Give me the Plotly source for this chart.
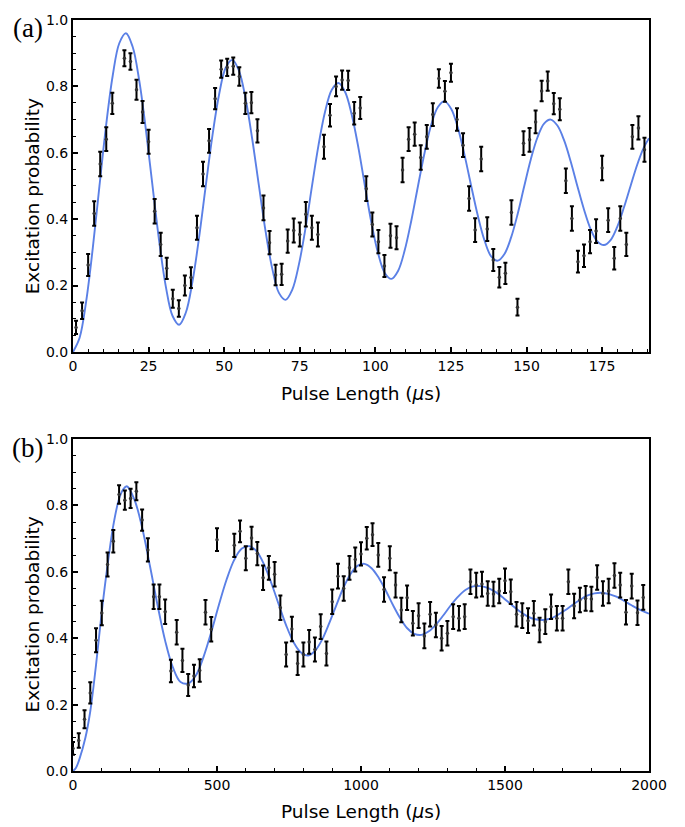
import plotly.graph_objects as go

# ---------------- Panel (a) data ----------------
a_x = [1, 3, 5, 7, 9, 11, 13, 17, 19, 21, 23, 25, 27, 29, 31, 33, 35, 37, 39, 41,
       43, 45, 47, 49, 51, 53, 55, 57, 59, 61, 63, 65, 67, 69, 71, 73, 75, 77, 79, 81,
       83, 85, 87, 89, 91, 93, 95, 97, 99, 101, 103, 105, 107, 109, 111, 113, 115, 117, 119, 121,
       123, 125, 127, 129, 131, 133, 135, 137, 139, 141, 143, 145, 147, 149, 151, 153, 155, 157, 159, 161,
       163, 165, 167, 169, 171, 173, 175, 177, 179, 181, 183, 185, 187, 189]
a_y = [0.074, 0.124, 0.262, 0.417, 0.566, 0.641, 0.749, 0.885, 0.875, 0.790, 0.723, 0.633, 0.424, 0.324, 0.252, 0.160, 0.131, 0.200, 0.224, 0.374,
       0.536, 0.636, 0.763, 0.852, 0.857, 0.861, 0.830, 0.749, 0.751, 0.666, 0.434, 0.329, 0.232, 0.234, 0.334, 0.366, 0.354, 0.415, 0.374, 0.354,
       0.618, 0.713, 0.800, 0.819, 0.818, 0.719, 0.735, 0.492, 0.384, 0.332, 0.259, 0.350, 0.344, 0.548, 0.641, 0.656, 0.586, 0.648, 0.715, 0.824,
       0.785, 0.841, 0.700, 0.623, 0.462, 0.367, 0.581, 0.370, 0.277, 0.225, 0.237, 0.420, 0.135, 0.629, 0.639, 0.693, 0.786, 0.816, 0.748, 0.731,
       0.516, 0.402, 0.272, 0.290, 0.332, 0.364, 0.554, 0.397, 0.282, 0.402, 0.324, 0.648, 0.675, 0.609]
a_err = [0.020, 0.025, 0.033, 0.037, 0.037, 0.036, 0.032, 0.024, 0.025, 0.030, 0.033, 0.036, 0.037, 0.035, 0.032, 0.027, 0.025, 0.030, 0.031, 0.036,
         0.037, 0.036, 0.032, 0.026, 0.026, 0.026, 0.028, 0.032, 0.032, 0.035, 0.037, 0.035, 0.031, 0.032, 0.035, 0.036, 0.036, 0.037, 0.036, 0.036,
         0.036, 0.034, 0.030, 0.029, 0.029, 0.034, 0.033, 0.037, 0.036, 0.035, 0.033, 0.036, 0.035, 0.037, 0.036, 0.035, 0.037, 0.036, 0.034, 0.028,
         0.031, 0.027, 0.034, 0.036, 0.037, 0.036, 0.037, 0.036, 0.033, 0.031, 0.032, 0.037, 0.025, 0.036, 0.036, 0.034, 0.031, 0.029, 0.032, 0.033,
         0.037, 0.037, 0.033, 0.034, 0.035, 0.036, 0.037, 0.036, 0.034, 0.037, 0.035, 0.036, 0.035, 0.036]

# fit curve of panel (a)
fit_a_x = [0, 2.19, 4.38, 6.56, 8.75, 10.94, 13.13, 15.31,
           17.5, 19.7, 21.9, 24.1, 26.3, 28.5, 30.7, 32.9,
           35.1, 37.3, 39.5, 41.7, 43.9, 46.1, 48.3, 50.5,
           52.7, 54.9, 57.1, 59.3, 61.5, 63.7, 65.9, 68.1,
           70.3, 72.5, 74.7, 76.9, 79.05, 81.2, 83.4, 85.6,
           87.8, 90.0, 92.2, 94.4, 96.55, 98.7, 100.9, 103.1,
           105.3, 107.5, 109.7, 111.9, 114.1, 116.3, 118.5, 120.7,
           122.9, 125.1, 127.3, 129.5, 131.7, 133.9, 136.1, 138.3,
           140.5, 142.7, 144.9, 147.1, 149.25, 151.4, 153.6, 155.8,
           158.0, 160.2, 162.4, 164.6, 166.8, 169.0, 171.2, 173.4,
           175.6, 177.8, 180.0, 182.2, 184.4, 186.6, 188.8, 190.5]
fit_a_y = [0.0, 0.043, 0.154, 0.314, 0.50, 0.682, 0.832, 0.930,
           0.960, 0.920, 0.818, 0.670, 0.50, 0.334, 0.197, 0.109,
           0.082, 0.118, 0.211, 0.345, 0.50, 0.651, 0.775, 0.856,
           0.880, 0.847, 0.762, 0.640, 0.50, 0.363, 0.251, 0.178,
           0.157, 0.187, 0.263, 0.373, 0.50, 0.623, 0.725, 0.790,
           0.810, 0.783, 0.714, 0.615, 0.50, 0.389, 0.297, 0.238,
           0.220, 0.244, 0.306, 0.396, 0.50, 0.601, 0.685, 0.738,
           0.755, 0.732, 0.675, 0.593, 0.50, 0.410, 0.336, 0.288,
           0.275, 0.295, 0.345, 0.417, 0.50, 0.580, 0.646, 0.688,
           0.700, 0.682, 0.638, 0.574, 0.50, 0.429, 0.370, 0.333,
           0.322, 0.337, 0.377, 0.435, 0.50, 0.564, 0.616, 0.644]

# ---------------- Panel (b) data ----------------
b_x = [0, 20, 40, 60, 80, 100, 120, 140, 160, 180, 200, 220, 240, 260, 280, 300, 320, 340, 360, 380,
       400, 420, 440, 460, 480, 500, 560, 580, 600, 620, 640, 660, 680, 700, 720, 740, 760, 780, 800, 820,
       840, 860, 880, 900, 920, 940, 960, 980, 1000, 1020, 1040, 1060, 1080, 1100, 1120, 1140, 1160, 1180, 1200, 1220,
       1240, 1260, 1280, 1300, 1320, 1340, 1360, 1380, 1400, 1420, 1440, 1460, 1480, 1500, 1520, 1540, 1560, 1580, 1600, 1620,
       1640, 1660, 1680, 1700, 1720, 1740, 1760, 1780, 1800, 1820, 1840, 1860, 1880, 1900, 1920, 1940, 1960, 1980]
b_y = [0.068, 0.092, 0.156, 0.235, 0.394, 0.476, 0.622, 0.692, 0.833, 0.816, 0.821, 0.843, 0.756, 0.666, 0.525, 0.525, 0.480, 0.301, 0.418, 0.333,
       0.259, 0.286, 0.303, 0.478, 0.427, 0.697, 0.680, 0.722, 0.641, 0.702, 0.655, 0.582, 0.612, 0.593, 0.492, 0.351, 0.428, 0.324, 0.351, 0.389,
       0.366, 0.435, 0.354, 0.510, 0.587, 0.550, 0.612, 0.637, 0.654, 0.701, 0.712, 0.651, 0.547, 0.641, 0.560, 0.485, 0.522, 0.445, 0.468, 0.407,
       0.472, 0.440, 0.400, 0.415, 0.465, 0.460, 0.465, 0.570, 0.560, 0.563, 0.535, 0.533, 0.542, 0.573, 0.540, 0.472, 0.468, 0.453, 0.475, 0.425,
       0.450, 0.495, 0.460, 0.460, 0.570, 0.497, 0.515, 0.520, 0.518, 0.583, 0.535, 0.542, 0.589, 0.560, 0.478, 0.557, 0.477, 0.523]
b_err = [0.019, 0.022, 0.027, 0.032, 0.036, 0.037, 0.036, 0.034, 0.028, 0.029, 0.029, 0.027, 0.032, 0.035, 0.037, 0.037, 0.037, 0.034, 0.037, 0.035,
         0.033, 0.034, 0.034, 0.037, 0.037, 0.034, 0.035, 0.033, 0.036, 0.034, 0.035, 0.037, 0.036, 0.037, 0.037, 0.036, 0.037, 0.035, 0.036, 0.036,
         0.036, 0.037, 0.036, 0.037, 0.037, 0.037, 0.036, 0.036, 0.035, 0.034, 0.034, 0.036, 0.037, 0.036, 0.037, 0.037, 0.037, 0.037, 0.037, 0.037,
         0.037, 0.037, 0.037, 0.037, 0.037, 0.037, 0.037, 0.037, 0.037, 0.037, 0.037, 0.037, 0.037, 0.037, 0.037, 0.037, 0.037, 0.037, 0.037, 0.037,
         0.037, 0.037, 0.037, 0.037, 0.037, 0.037, 0.037, 0.037, 0.037, 0.037, 0.037, 0.037, 0.037, 0.037, 0.037, 0.037, 0.037, 0.037]

# fit curve of panel (b)
fit_b_x = [0, 10, 22, 43, 60, 80, 100, 120, 140, 160, 174,
           187, 213.6, 240.3, 266.9, 293.5, 320.1, 346.8, 373.4,
           400, 426.6, 453.3, 479.9, 506.5, 533.1, 559.8, 586.4,
           613, 638.5, 664, 689.5, 715, 740.5, 766, 791.5,
           817, 841.4, 865.75, 890.1, 914.5, 938.9, 963.25, 987.6,
           1012, 1036.75, 1061.5, 1086.25, 1111, 1135.75, 1160.5, 1185.25,
           1210, 1235.6, 1261.25, 1286.9, 1312.5, 1338.1, 1363.75, 1389.4,
           1415, 1442.1, 1469.25, 1496.4, 1523.5, 1550.6, 1577.75, 1604.9,
           1632, 1657.5, 1683, 1708.5, 1734, 1759.5, 1785, 1810.5,
           1836, 1861.5, 1887, 1912.5, 1938, 1963.5, 1989, 2000]
fit_b_y = [0.0, 0.009, 0.035, 0.100, 0.180, 0.320, 0.480, 0.620, 0.740, 0.820, 0.848,
           0.858, 0.817, 0.732, 0.619, 0.50, 0.392, 0.312, 0.268,
           0.264, 0.288, 0.344, 0.418, 0.50, 0.576, 0.636, 0.670,
           0.677, 0.661, 0.621, 0.564, 0.50, 0.438, 0.388, 0.357,
           0.348, 0.363, 0.397, 0.446, 0.50, 0.552, 0.593, 0.618,
           0.624, 0.611, 0.582, 0.543, 0.50, 0.461, 0.430, 0.413,
           0.410, 0.421, 0.442, 0.470, 0.50, 0.526, 0.546, 0.556,
           0.557, 0.551, 0.538, 0.520, 0.50, 0.481, 0.466, 0.457,
           0.455, 0.459, 0.470, 0.484, 0.50, 0.515, 0.528, 0.535,
           0.537, 0.533, 0.525, 0.513, 0.50, 0.4875, 0.478, 0.474]

a_xticks = [0, 25, 50, 75, 100, 125, 150, 175]
b_xticks = [0, 500, 1000, 1500, 2000]
y_ticks = [0.0, 0.2, 0.4, 0.6, 0.8, 1.0]

FIT_COLOR = "#5b80e6"
FONT = "DejaVu Sans"

fig = go.Figure()

def add_panel(xs, ys, errs, fx, fy, xa, ya):
    fig.add_trace(go.Scatter(x=fx, y=fy, mode="lines", xaxis=xa, yaxis=ya,
                             line=dict(color=FIT_COLOR, width=1.9, shape="spline", smoothing=1.0),
                             hoverinfo="skip", showlegend=False))
    fig.add_trace(go.Scatter(x=xs, y=ys, mode="markers", xaxis=xa, yaxis=ya,
                             marker=dict(size=3.5, color="#333333"),
                             error_y=dict(type="data", array=errs, visible=True,
                                          color="black", thickness=2, width=2),
                             showlegend=False))

add_panel(a_x, a_y, a_err, fit_a_x, fit_a_y, "x", "y")
add_panel(b_x, b_y, b_err, fit_b_x, fit_b_y, "x2", "y2")

ax_common = dict(showline=True, linewidth=2, linecolor="black", mirror=True,
                 ticks="inside", ticklen=5, tickwidth=1.6, tickcolor="black",
                 showgrid=False, zeroline=False,
                 tickfont=dict(family=FONT, size=14, color="black"))

minor_y = dict(dtick=0.05, tick0=0, ticks="inside", ticklen=3, tickwidth=1.3, tickcolor="black")

fig.update_layout(
    width=685, height=827,
    margin=dict(l=73, r=36, t=13, b=56),
    paper_bgcolor="white", plot_bgcolor="white",
    xaxis=dict(domain=[0, 1], anchor="y", range=[0, 190.5], tickvals=a_xticks,
               minor=dict(dtick=5, tick0=0, ticks="inside", ticklen=3, tickwidth=1.3, tickcolor="black"),
               **ax_common),
    yaxis=dict(domain=[0.558, 1], anchor="x", range=[0, 1], tickvals=y_ticks, tickformat=".1f",
               minor=minor_y, **ax_common),
    xaxis2=dict(domain=[0, 1], anchor="y2", range=[0, 2000], tickvals=b_xticks,
                minor=dict(dtick=100, tick0=0, ticks="inside", ticklen=3, tickwidth=1.3, tickcolor="black"),
                **ax_common),
    yaxis2=dict(domain=[0, 0.442], anchor="x2", range=[0, 1], tickvals=y_ticks, tickformat=".1f",
                minor=minor_y, **ax_common),
)

# paper coordinates: y=0 at pixel 771, y=1 at pixel 13 (758 px tall); x=0 at 73, x=1 at 649 (576 px)
def px_to_paper_x(px):
    return (px - 73) / 576.0

def py_to_paper_y(py):
    return (771 - py) / 758.0

annots = [
    dict(text="Pulse Length (<i>μ</i>s)", x=px_to_paper_x(361), y=py_to_paper_y(390), size=18.5, angle=0),
    dict(text="Pulse Length (<i>μ</i>s)", x=px_to_paper_x(361), y=py_to_paper_y(812), size=18.5, angle=0),
    dict(text="Excitation probability", x=px_to_paper_x(32), y=py_to_paper_y(191), size=18.5, angle=-90),
    dict(text="Excitation probability", x=px_to_paper_x(32), y=py_to_paper_y(613), size=18.5, angle=-90),
]
for a in annots:
    fig.add_annotation(text=a["text"], x=a["x"], y=a["y"], xref="paper", yref="paper",
                       showarrow=False, textangle=a["angle"], xanchor="center", yanchor="middle",
                       font=dict(family=FONT, size=a["size"], color="black"))

for lab, py in [("(a)", 21), ("(b)", 445)]:
    fig.add_annotation(text=lab, x=px_to_paper_x(27.5), y=py_to_paper_y(py), xref="paper", yref="paper",
                       showarrow=False, xanchor="center", yanchor="middle",
                       font=dict(family="Liberation Serif", size=27, color="black"))

fig.write_html("out.html")
